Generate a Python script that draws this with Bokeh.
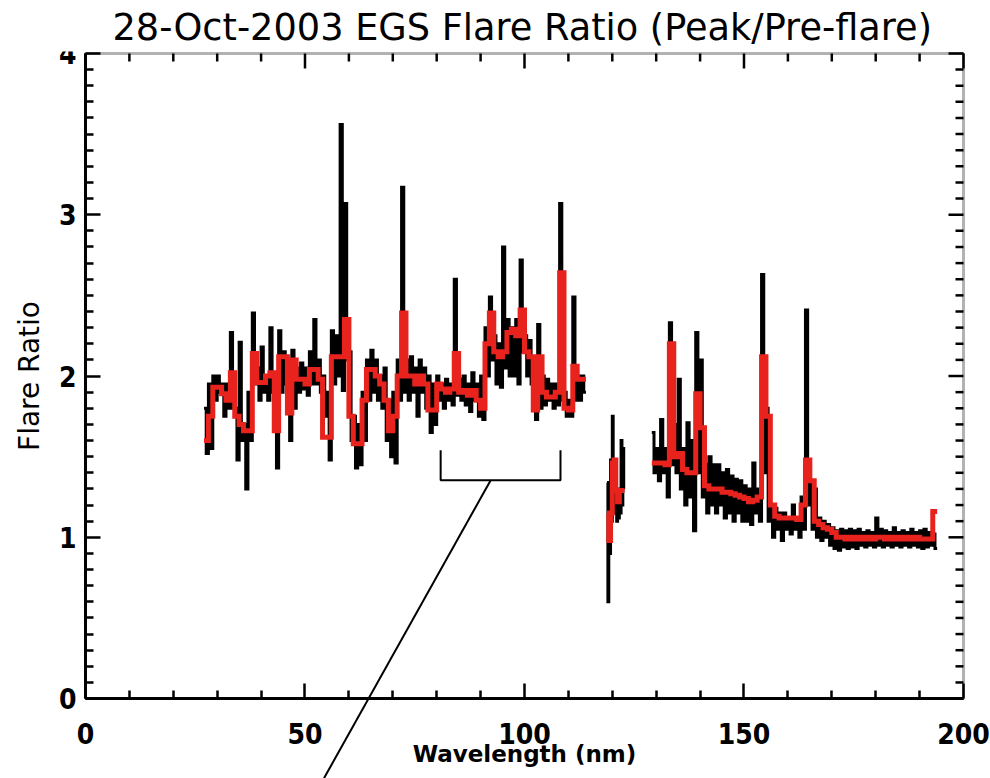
import math
from bokeh.plotting import figure
from bokeh.models import FixedTicker, Range1d, BoxAnnotation
from bokeh.embed import file_html
from bokeh.resources import INLINE

# ---------------- data ----------------
# Each wavelength bin (nm) carries the low and high excursion of the black
# (full resolution) ratio and the value of the red (smoothed) ratio.
# segment 1: 27 - 114 nm
seg1_wl = [27, 28, 29, 30, 31, 32, 33, 34, 35, 36, 37, 38, 39, 40, 41, 42, 43, 44, 45, 46,
           47, 48, 49, 50, 51, 52, 53, 54, 55, 56, 57, 58, 59, 60, 61, 62, 63, 64, 65, 66,
           67, 68, 69, 70, 71, 72, 73, 74, 75, 76, 77, 78, 79, 80, 81, 82, 83, 84, 85, 86,
           87, 88, 89, 90, 91, 92, 93, 94, 95, 96, 97, 98, 99, 100, 101, 102, 103, 104, 105, 106,
           107, 108, 109, 110, 111, 112, 113]
seg1_end = 114
seg1_black_lo = [1.52, 1.55, 1.85, 1.90, 1.75, 1.80, 1.80, 1.48, 1.60, 1.30, 1.60, 1.95, 1.85, 1.90, 1.85, 1.90, 1.43, 1.90, 1.95, 1.60,
                 1.80, 1.90, 1.92, 1.88, 1.95, 1.95, 1.90, 1.75, 1.48, 1.95, 2.00, 1.91, 2.10, 1.60, 1.43, 1.45, 1.60, 1.85, 1.90, 1.85,
                 1.80, 1.60, 1.50, 1.46, 1.85, 1.90, 1.85, 1.90, 1.75, 1.90, 1.80, 1.65, 1.70, 1.85, 1.80, 1.85, 1.82, 1.88, 1.85, 1.82,
                 1.78, 1.85, 1.75, 1.73, 2.00, 2.10, 1.95, 1.93, 2.05, 2.00, 2.00, 1.95, 2.15, 2.00, 1.95, 1.73, 1.80, 1.82, 1.85, 1.80,
                 1.82, 1.85, 1.75, 1.75, 1.85, 1.85, 1.90]
seg1_black_hi = [1.80, 1.95, 2.00, 2.00, 1.95, 1.95, 2.27, 1.80, 2.21, 1.70, 1.90, 2.39, 2.05, 2.18, 2.00, 2.30, 2.00, 2.28, 2.15, 2.00,
                 2.16, 2.05, 2.08, 2.05, 2.15, 2.35, 2.10, 2.00, 1.90, 2.28, 2.25, 3.56, 3.07, 2.15, 1.75, 1.70, 1.90, 2.10, 2.16, 2.10,
                 2.00, 2.05, 1.85, 1.90, 2.10, 3.17, 2.10, 2.12, 2.05, 2.10, 2.05, 2.00, 1.95, 2.00, 1.95, 1.98, 1.95, 2.60, 1.98, 2.00,
                 1.95, 2.02, 1.95, 2.00, 2.30, 2.49, 2.25, 2.20, 2.80, 2.35, 2.30, 2.35, 2.72, 2.25, 2.22, 2.05, 2.32, 2.00, 1.98, 1.95,
                 1.95, 3.07, 1.90, 1.85, 2.49, 2.00, 2.00]
seg1_red = [1.60, 1.75, 1.93, 1.93, 1.89, 1.85, 2.02, 1.75, 1.70, 1.66, 1.66, 2.14, 1.96, 1.96, 2.00, 2.02, 1.66, 2.12, 2.12, 1.77,
            2.10, 1.98, 1.98, 1.95, 2.04, 2.04, 1.98, 1.62, 1.62, 2.12, 2.12, 2.12, 2.35, 1.75, 1.58, 1.58, 1.85, 2.04, 2.04, 2.00,
            1.95, 1.85, 1.66, 1.75, 2.00, 2.39, 2.00, 2.00, 1.95, 2.00, 1.95, 1.79, 1.79, 1.95, 1.92, 1.90, 1.92, 2.14, 1.90, 1.91,
            1.88, 1.91, 1.85, 1.80, 2.20, 2.39, 2.15, 2.12, 2.15, 2.27, 2.29, 2.25, 2.41, 2.15, 2.12, 1.79, 2.12, 1.90, 1.87, 1.87,
            1.90, 2.64, 1.80, 1.79, 2.06, 1.98, 1.98]

# segment 2: 119 - 123 nm
seg2_wl = [118.8, 119.2, 119.6, 120.0, 120.4, 120.8, 121.2, 121.6, 122.0, 122.4]
seg2_end = 122.8
seg2_black_lo = [0.60, 0.90, 1.10, 1.30, 1.15, 1.10, 1.12, 1.15, 1.20, 1.30]
seg2_black_hi = [1.34, 1.20, 1.48, 1.75, 1.45, 1.30, 1.25, 1.30, 1.60, 1.55]
seg2_red = [1.15, 0.98, 1.15, 1.46, 1.48, 1.29, 1.22, 1.29, 1.29, 1.29]

# segment 3: 129 - 194 nm
seg3_wl = [129, 130, 131, 132, 133, 134, 135, 136, 137, 138, 139, 140, 141, 142, 143, 144, 145, 146, 147, 148,
           149, 150, 151, 152, 153, 154, 155, 156, 157, 158, 159, 160, 161, 162, 163, 164, 165, 166, 167, 168,
           169, 170, 171, 172, 173, 174, 175, 176, 177, 178, 179, 180, 181, 182, 183, 184, 185, 186, 187, 188,
           189, 190, 191, 192, 193]
seg3_end = 194
seg3_black_lo = [1.40, 1.35, 1.40, 1.25, 1.45, 1.40, 1.30, 1.20, 1.25, 1.04, 1.40, 1.25, 1.15, 1.20, 1.15, 1.20, 1.12, 1.15, 1.10, 1.15,
                 1.10, 1.10, 1.08, 1.15, 1.10, 1.40, 1.10, 1.00, 1.05, 0.98, 1.05, 1.02, 1.05, 1.00, 1.05, 1.20, 1.05, 1.00, 0.98, 1.00,
                 0.95, 0.93, 0.92, 0.94, 0.93, 0.94, 0.93, 0.95, 0.94, 0.95, 0.94, 0.95, 0.94, 0.95, 0.94, 0.95, 0.94, 0.95, 0.94, 0.95,
                 0.94, 0.93, 0.94, 0.95, 0.93]
seg3_black_hi = [1.65, 1.55, 1.73, 1.55, 2.33, 1.70, 1.98, 1.55, 1.71, 1.60, 2.27, 2.10, 1.45, 1.50, 1.45, 1.45, 1.40, 1.42, 1.38, 1.36,
                 1.35, 1.32, 1.30, 1.46, 1.30, 2.63, 1.80, 1.20, 1.18, 1.15, 1.15, 1.12, 1.20, 1.10, 1.25, 2.41, 1.35, 1.30, 1.12, 1.10,
                 1.08, 1.06, 1.04, 1.05, 1.04, 1.05, 1.04, 1.05, 1.03, 1.04, 1.03, 1.12, 1.05, 1.04, 1.03, 1.06, 1.03, 1.04, 1.03, 1.05,
                 1.03, 1.04, 1.05, 1.03, 1.02]
seg3_red = [1.46, 1.46, 1.46, 1.45, 2.20, 1.50, 1.52, 1.42, 1.40, 1.40, 1.89, 1.68, 1.32, 1.30, 1.30, 1.30, 1.28, 1.28, 1.27, 1.26,
            1.25, 1.24, 1.22, 1.23, 1.25, 2.12, 1.75, 1.20, 1.13, 1.12, 1.12, 1.12, 1.12, 1.11, 1.20, 1.48, 1.35, 1.10, 1.08, 1.06,
            1.05, 1.03, 1.00, 1.00, 0.99, 1.00, 0.99, 1.00, 0.99, 1.00, 0.99, 1.00, 1.00, 0.99, 1.00, 0.99, 1.00, 0.99, 1.00, 0.99,
            1.00, 0.99, 0.99, 0.99, 1.16]

x_major = [0, 50, 100, 150, 200]
y_major = [0, 1, 2, 3, 4]
x_minor = [10, 20, 30, 40, 60, 70, 80, 90, 110, 120, 130, 140, 160, 170, 180, 190]
y_minor = [0.1, 0.2, 0.3, 0.4, 0.5, 0.6, 0.7, 0.8, 0.9, 1.1, 1.2, 1.3, 1.4, 1.5, 1.6, 1.7, 1.8, 1.9,
           2.1, 2.2, 2.3, 2.4, 2.5, 2.6, 2.7, 2.8, 2.9, 3.1, 3.2, 3.3, 3.4, 3.5, 3.6, 3.7, 3.8, 3.9]

bracket_x = [80.9, 80.9, 108.2, 108.2]
bracket_y = [1.54, 1.354, 1.354, 1.54]
pointer_x = [92.3, 54.2]
pointer_y = [1.354, -0.50]

TITLE = "28-Oct-2003 EGS Flare Ratio (Peak/Pre-flare)"
XLABEL = "Wavelength (nm)"
YLABEL = "Flare Ratio"

# ---------------- figure ----------------
# The frame spans the whole canvas so that the pointer line can run below the x axis;
# the axes are pinned at x=0 / y=0 with fixed_location.
p = figure(width=990, height=778,
           x_range=Range1d(-19.36, 206.15), y_range=Range1d(-0.4954, 4.012),
           output_backend="svg", toolbar_location=None,
           min_border_left=0, min_border_right=0, min_border_top=50, min_border_bottom=0)
p.background_fill_color = "white"
p.border_fill_color = "white"
p.grid.visible = False
p.outline_line_color = None

p.title.text = TITLE
p.title.align = "left"
p.title.offset = 112
p.title.standoff = 6
p.title.text_font = "DejaVu Sans"
p.title.text_font_size = "36.7px"
p.title.text_font_style = "normal"
p.title.text_color = "black"

NARROW = "'Liberation Sans Narrow', 'DejaVu Sans Condensed', sans-serif"


def style_axis(ax, major, minor):
    ax.ticker = FixedTicker(ticks=major, minor_ticks=minor)
    ax.axis_line_width = 3
    ax.axis_line_color = "black"
    ax.major_tick_in = 15
    ax.major_tick_out = 0
    ax.minor_tick_in = 8
    ax.minor_tick_out = 0
    ax.major_tick_line_width = 2.5
    ax.minor_tick_line_width = 2.5
    ax.major_tick_line_color = "black"
    ax.minor_tick_line_color = "black"
    ax.major_label_text_font = NARROW
    ax.major_label_text_font_style = "bold"
    ax.major_label_text_font_size = "28px"
    ax.major_label_text_color = "black"
    ax.axis_label_text_color = "black"


xb = p.xaxis[0]
style_axis(xb, x_major, x_minor)
xb.fixed_location = 0
xb.bounds = (0, 200)
xb.major_label_standoff = 24
xb.axis_label = XLABEL
xb.axis_label_text_font = "DejaVu Sans"
xb.axis_label_text_font_style = "bold"
xb.axis_label_text_font_size = "23px"
xb.axis_label_standoff = -6

yl = p.yaxis[0]
style_axis(yl, y_major, y_minor)
yl.fixed_location = 0
yl.bounds = (0, 4)
yl.major_label_standoff = 9
yl.major_label_orientation = "horizontal"
yl.axis_label = YLABEL
yl.axis_label_text_font = "DejaVu Sans"
yl.axis_label_text_font_style = "normal"
yl.axis_label_text_font_size = "28px"
yl.axis_label_standoff = 10

# plot box and the inward ticks of the top and right sides
p.add_layout(BoxAnnotation(left=x_major[0], right=x_major[-1], bottom=y_major[0], top=y_major[-1],
                           fill_color=None, line_color="black", line_width=3, level="overlay"))
down = -math.pi / 2
p.ray(x=x_major, y=[y_major[-1]] * len(x_major), length=15, length_units="screen",
      angle=down, line_color="black", line_width=2.5)
p.ray(x=x_minor, y=[y_major[-1]] * len(x_minor), length=8, length_units="screen",
      angle=down, line_color="black", line_width=2.5)
p.ray(x=[x_major[-1]] * len(y_major), y=y_major, length=15, length_units="screen",
      angle=math.pi, line_color="black", line_width=2.5)
p.ray(x=[x_major[-1]] * len(y_minor), y=y_minor, length=8, length_units="screen",
      angle=math.pi, line_color="black", line_width=2.5)


# ---------------- spectra ----------------
def envelope(wl, wend, lo, hi):
    edges = list(wl) + [wend]
    xs, ys = [], []
    for i in range(len(wl)):
        mid = (edges[i] + edges[i + 1]) / 2
        xs += [edges[i], mid]
        ys += [hi[i], lo[i]]
    xs.append(wend)
    ys.append(lo[-1])
    return xs, ys


segments = [(seg1_wl, seg1_end, seg1_black_lo, seg1_black_hi, seg1_red),
            (seg2_wl, seg2_end, seg2_black_lo, seg2_black_hi, seg2_red),
            (seg3_wl, seg3_end, seg3_black_lo, seg3_black_hi, seg3_red)]
for wl, wend, lo, hi, red in segments:
    xs, ys = envelope(wl, wend, lo, hi)
    p.step(xs, ys, mode="after", line_color="black", line_width=3, line_join="miter")
for wl, wend, lo, hi, red in segments:
    p.step(list(wl) + [wend], list(red) + [red[-1]], mode="after", line_color="#e8231d",
           line_width=5, line_join="miter")

# ---------------- annotation ----------------
p.line(bracket_x, bracket_y, line_color="black", line_width=2)
p.line(pointer_x, pointer_y, line_color="black", line_width=2)

open("out.html", "w").write(file_html(p, INLINE))
